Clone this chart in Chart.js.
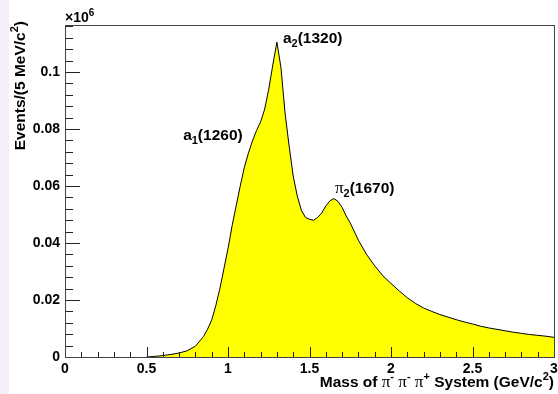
<!DOCTYPE html>
<html>
<head>
<meta charset="utf-8">
<script src="https://cdn.jsdelivr.net/npm/chart.js@4"></script>
<style>
  html, body { margin: 0; padding: 0; background: #fff; }
  #wrap { width: 558px; height: 394px; position: relative; }
</style>
</head>
<body>
<div id="wrap"><canvas id="massChart" width="558" height="394"></canvas></div>
<script>
// invariant mass (GeV/c^2) and events per 5 MeV bin (x10^6)
const mass = [0.50, 0.55, 0.60, 0.65, 0.70, 0.75, 0.80, 0.85, 0.875, 0.90,
  0.925, 0.95, 0.975, 1.00, 1.025, 1.05, 1.075, 1.10, 1.125, 1.15,
  1.175, 1.20, 1.225, 1.25, 1.275, 1.30, 1.325, 1.35, 1.375, 1.40,
  1.425, 1.45, 1.475, 1.50, 1.525, 1.55, 1.575, 1.60, 1.625, 1.65,
  1.675, 1.70, 1.725, 1.75, 1.80, 1.85, 1.90, 1.95, 2.00, 2.05,
  2.10, 2.15, 2.20, 2.25, 2.30, 2.35, 2.40, 2.45, 2.50, 2.55,
  2.60, 2.65, 2.70, 2.75, 2.80, 2.85, 2.90, 2.95, 3.00];
const events = [0, 0.0002, 0.0005, 0.0009, 0.0014, 0.0022, 0.0038, 0.0072, 0.0098, 0.013,
  0.018, 0.024, 0.031, 0.038, 0.046, 0.053, 0.060, 0.0665, 0.0715, 0.0758,
  0.0795, 0.0825, 0.087, 0.094, 0.1025, 0.1105, 0.1015, 0.0856, 0.074, 0.0635,
  0.0565, 0.0515, 0.049, 0.0483, 0.048, 0.049, 0.0505, 0.053, 0.0548, 0.0556,
  0.0546, 0.0525, 0.0495, 0.047, 0.041, 0.036, 0.032, 0.0285, 0.0258, 0.0232,
  0.0208, 0.0188, 0.0172, 0.0160, 0.0149, 0.0140, 0.0131, 0.0123, 0.0116, 0.0108,
  0.0102, 0.0097, 0.0092, 0.0087, 0.0083, 0.0079, 0.0076, 0.0073, 0.0069];

const xTicks = [0, 0.5, 1, 1.5, 2, 2.5, 3];
const yTicks = [0, 0.02, 0.04, 0.06, 0.08, 0.1];

// resonance labels: [name, subscript, mass text, x, y, anchor]
const peaks = [
  ['a', '2', '(1320)', 1.337, 0.1102, 'left'],
  ['a', '1', '(1260)', 1.090, 0.0761, 'right'],
  ['\u03c0', '2', '(1670)', 1.656, 0.0575, 'left']
];

const SANS = 'bold 15.5px "Liberation Sans", Arial, sans-serif';
const SMALL = 'bold 11px "Liberation Sans", Arial, sans-serif';
const SERIF = '17px "Liberation Serif", "Times New Roman", serif';

// draws a run of text pieces, each {t, font, dy}
function drawRun(ctx, parts, x, y, align) {
  let w = 0;
  parts.forEach(p => { ctx.font = p.font; w += ctx.measureText(p.t).width; });
  let cx = align === 'right' ? x - w : x;
  ctx.textAlign = 'left';
  ctx.textBaseline = 'alphabetic';
  parts.forEach(p => {
    ctx.font = p.font;
    ctx.fillText(p.t, cx, y + (p.dy || 0));
    cx += ctx.measureText(p.t).width;
  });
}

const rootStyle = {
  id: 'rootStyle',
  beforeDraw(chart) {
    const ctx = chart.ctx;
    ctx.save();
    ctx.fillStyle = '#fff';
    ctx.fillRect(0, 0, chart.width, chart.height);
    ctx.fillStyle = '#f4eff9';
    ctx.fillRect(0, 0, 9, chart.height);
    ctx.restore();
  },
  afterDatasetsDraw(chart) {
    const { ctx, chartArea: a, scales: { x, y } } = chart;
    ctx.save();
    ctx.strokeStyle = '#222';
    ctx.lineWidth = 1;
    ctx.beginPath();
    // x ticks every 0.1, inward
    for (let i = 0; i <= 30; i++) {
      const px = Math.round(x.getPixelForValue(i / 10)) + 0.5;
      const len = i % 5 === 0 ? 10 : 5;
      ctx.moveTo(px, a.bottom);
      ctx.lineTo(px, a.bottom - len);
    }
    // y ticks every 0.004, inward
    for (let i = 0; i * 0.004 <= y.max + 1e-9; i++) {
      const py = Math.round(y.getPixelForValue(i * 0.004)) + 0.5;
      const len = i % 5 === 0 ? 15 : 8;
      ctx.moveTo(a.left, py);
      ctx.lineTo(a.left + len, py);
    }
    ctx.stroke();
    ctx.strokeStyle = '#444';
    ctx.strokeRect(Math.round(a.left) + 0.5, Math.round(a.top) + 0.5,
      Math.round(a.right - a.left), Math.round(a.bottom - a.top));

    ctx.fillStyle = '#000';
    // exponent
    drawRun(ctx, [
      { t: '\u00d710', font: 'bold 14px "Liberation Sans", Arial, sans-serif' },
      { t: '6', font: 'bold 10px "Liberation Sans", Arial, sans-serif', dy: -6 }
    ], a.left, 22, 'left');

    // peak labels
    peaks.forEach(([n, sub, txt, mx, my, anchor]) => {
      const nameFont = n === 'a' ? SANS : SERIF;
      drawRun(ctx, [
        { t: n, font: nameFont },
        { t: sub, font: SMALL, dy: 4 },
        { t: txt, font: SANS }
      ], x.getPixelForValue(mx), y.getPixelForValue(my), anchor);
    });

    // x title
    const sup = t => ({ t, font: SMALL, dy: -7 });
    drawRun(ctx, [
      { t: 'Mass of ', font: SANS },
      { t: '\u03c0', font: SERIF }, sup('-'), { t: ' ', font: SANS },
      { t: '\u03c0', font: SERIF }, sup('-'), { t: ' ', font: SANS },
      { t: '\u03c0', font: SERIF }, sup('+'),
      { t: ' System (GeV/c', font: SANS }, sup('2'), { t: ')', font: SANS }
    ], a.right, 387, 'right');

    // y title, rotated
    ctx.translate(25, 21);
    ctx.rotate(-Math.PI / 2);
    drawRun(ctx, [
      { t: 'Events/(5 MeV/c', font: SANS }, sup('2'), { t: ')', font: SANS }
    ], 0, 0, 'right');
    ctx.restore();
  }
};

const tickFont = { family: '"Liberation Sans", Arial, sans-serif', size: 14, weight: 'bold' };

const ctx = document.getElementById('massChart').getContext('2d');
const chart = new Chart(ctx, {
  type: 'line',
  data: {
    datasets: [{
      data: mass.map((m, i) => ({ x: m, y: events[i] })),
      borderColor: '#000',
      borderWidth: 1,
      backgroundColor: '#ffff00',
      fill: 'origin',
      pointRadius: 0,
      tension: 0
    }]
  },
  options: {
    responsive: false,
    animation: false,
    layout: { padding: { top: 25, right: 4, left: 0, bottom: 0 } },
    plugins: { legend: { display: false }, tooltip: { enabled: false } },
    scales: {
      x: {
        type: 'linear',
        min: 0,
        max: 3,
        afterBuildTicks: s => { s.ticks = xTicks.map(v => ({ value: v })); },
        afterFit: s => { s.height = 37; s.paddingLeft = 0; s.paddingRight = 0; },
        grid: { display: false, drawTicks: false },
        border: { display: false },
        ticks: {
          color: '#000',
          padding: 4,
          maxRotation: 0,
          font: tickFont,
          callback: v => String(v)
        }
      },
      y: {
        min: 0,
        max: 0.1165,
        afterBuildTicks: s => { s.ticks = yTicks.map(v => ({ value: v })); },
        afterFit: s => { s.width = 65; s.paddingTop = 0; s.paddingBottom = 0; },
        grid: { display: false, drawTicks: false },
        border: { display: false },
        ticks: {
          color: '#000',
          padding: 5,
          font: tickFont,
          callback: v => String(v)
        }
      }
    }
  },
  plugins: [rootStyle]
});
</script>
</body>
</html>
